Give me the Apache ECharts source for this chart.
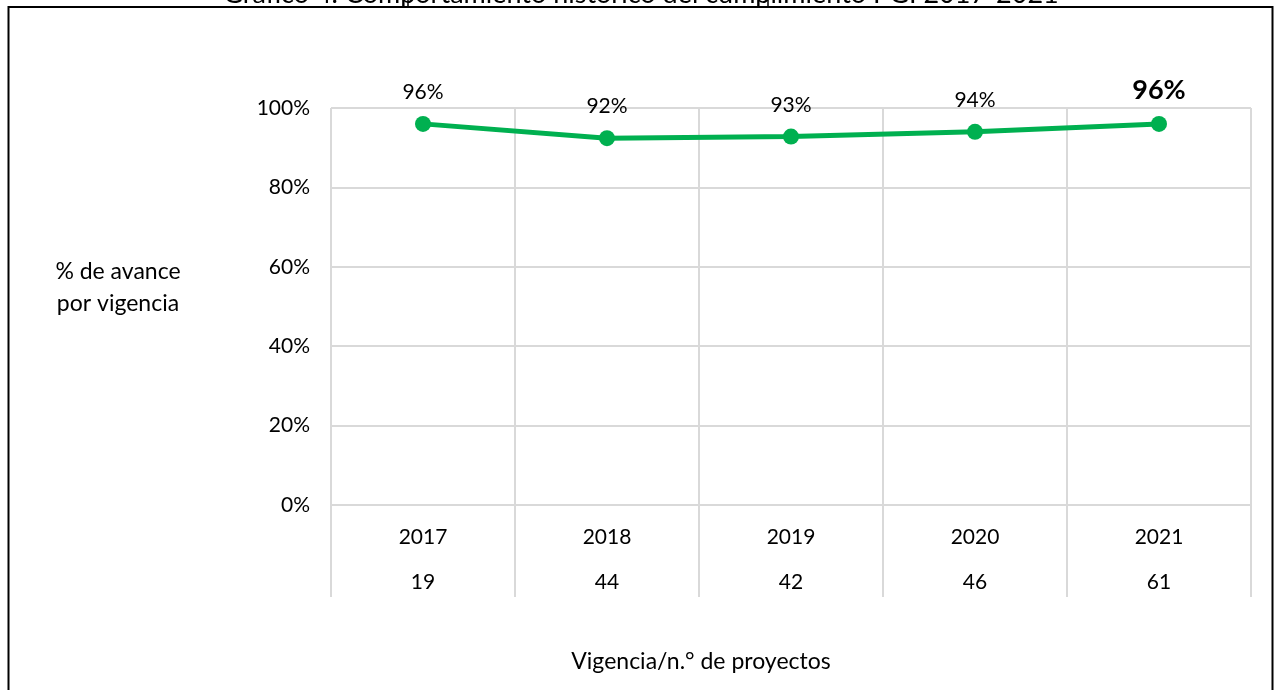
<!DOCTYPE html>
<html>
<head>
<meta charset="utf-8">
<script src="https://cdn.jsdelivr.net/npm/echarts@6/dist/echarts.min.js"></script>
<style>
html,body{margin:0;padding:0;background:#fff;}
#c{width:1277px;height:690px;}
</style>
</head>
<body>
<div id="c"></div>
<script>
var years = ['2017', '2018', '2019', '2020', '2021'];
var projects = ['19', '44', '42', '46', '61'];
var progress = [0.960, 0.924, 0.928, 0.940, 0.960];
var yTicks = [0, 0.2, 0.4, 0.6, 0.8, 1.0];

var FONT = 'Lato, "Open Sans", sans-serif';
var FS = 21;
var chart = echarts.init(document.getElementById('c'));
var cats = years.map(function (y, i) { return y + '|' + projects[i]; });

chart.setOption({
  animation: false,
  backgroundColor: '#ffffff',
  grid: { left: 331, right: 26, top: 108, bottom: 185, containLabel: false },
  xAxis: {
    type: 'category',
    data: cats,
    boundaryGap: true,
    axisLine: { show: true, lineStyle: { color: '#d9d9d9', width: 2 } },
    axisTick: { show: true, interval: 0, length: 92, lineStyle: { color: '#d9d9d9', width: 2 } },
    splitLine: { show: true, interval: 0, lineStyle: { color: '#d9d9d9', width: 2 } },
    axisLabel: {
      interval: 0,
      margin: 10,
      fontFamily: FONT,
      fontSize: FS,
      color: '#000',
      formatter: function (v) {
        var p = v.split('|');
        return '{y|' + p[0] + '}\n{n|' + p[1] + '}';
      },
      rich: {
        y: { fontFamily: FONT, fontSize: FS, color: '#000', lineHeight: 45 },
        n: { fontFamily: FONT, fontSize: FS, color: '#000', lineHeight: 45 }
      }
    }
  },
  yAxis: {
    type: 'value',
    min: 0,
    max: 1,
    interval: 0.2,
    axisLine: { show: false },
    axisTick: { show: false },
    splitLine: { show: true, lineStyle: { color: '#d9d9d9', width: 2 } },
    axisLabel: {
      margin: 21,
      fontFamily: FONT,
      fontSize: FS,
      color: '#000',
      formatter: function (v) { return Math.round(v * 100) + '%'; }
    }
  },
  series: [{
    type: 'line',
    data: progress.map(function (v, i) {
      var d = { value: v };
      if (i === progress.length - 1) {
        d.label = { fontSize: 27, fontWeight: 'bold', distance: 12 };
      }
      return d;
    }),
    symbol: 'circle',
    symbolSize: 16,
    lineStyle: { color: '#00b050', width: 5 },
    itemStyle: { color: '#00b050' },
    label: {
      show: true,
      position: 'top',
      distance: 13,
      fontFamily: FONT,
      fontSize: FS,
      color: '#000',
      formatter: function (p) { return Math.round(p.value * 100) + '%'; }
    }
  }],
  graphic: [
    { type: 'rect', shape: { x: 8.5, y: 7, width: 1264, height: 720 }, style: { fill: 'none', stroke: '#000', lineWidth: 2 }, silent: true },
    { type: 'line', shape: { x1: 408, y1: 0, x2: 408, y2: 7 }, style: { stroke: '#000', lineWidth: 1.5 }, silent: true },
    { type: 'line', shape: { x1: 768, y1: 0, x2: 768, y2: 7 }, style: { stroke: '#000', lineWidth: 1.5 }, silent: true },
    { type: 'text', x: 641, y: -6, style: { text: 'Gráfico 4. Comportamiento histórico del cumplimiento PGI 2017-2021', font: '27px ' + FONT, fill: '#000', align: 'center', verticalAlign: 'middle' }, silent: true },
    { type: 'text', x: 118, y: 288, style: { text: '% de avance\npor vigencia', font: '23px ' + FONT, fill: '#000', align: 'center', verticalAlign: 'middle', lineHeight: 32 }, silent: true },
    { type: 'text', x: 701, y: 662, style: { text: 'Vigencia/n.° de proyectos', font: '23px ' + FONT, fill: '#000', align: 'center', verticalAlign: 'middle' }, silent: true }
  ]
});
</script>
</body>
</html>
